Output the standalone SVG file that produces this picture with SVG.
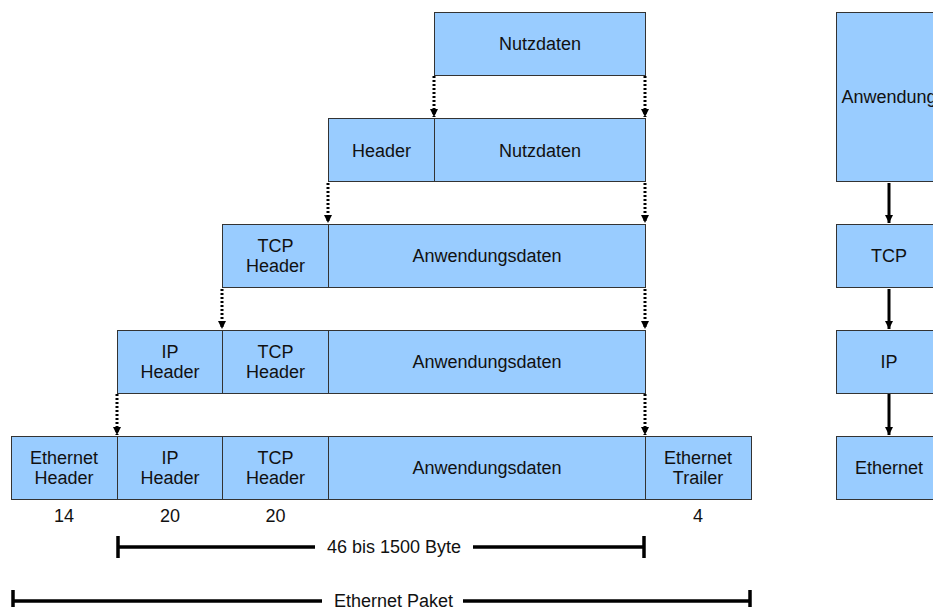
<svg xmlns="http://www.w3.org/2000/svg" width="933" height="607" viewBox="0 0 933 607">
<defs>
<style>
.box{fill:#99CCFF;stroke:#333;stroke-width:1}
.t{font-family:"Liberation Sans",Arial,sans-serif;font-size:18px;fill:#111;text-anchor:middle}
.dot{fill:none;stroke:#000;stroke-width:3;stroke-dasharray:2 2}
.sol{fill:none;stroke:#000;stroke-width:3}
.br{fill:none;stroke:#000;stroke-width:3.5}
</style>
<marker id="ah" viewBox="0 0 8 10" refX="8" refY="5" markerWidth="8" markerHeight="10" markerUnits="userSpaceOnUse" orient="auto">
<path d="M0,1 L8,5 L0,9 Z" fill="#000"/>
</marker>
</defs>
<rect width="933" height="607" fill="#fff"/>

<g id="connectors">
<line class="dot" x1="434" y1="76" x2="434" y2="117" marker-end="url(#ah)"/>
<line class="dot" x1="645" y1="76" x2="645" y2="117" marker-end="url(#ah)"/>
<line class="dot" x1="328" y1="183" x2="328" y2="223" marker-end="url(#ah)"/>
<line class="dot" x1="645" y1="183" x2="645" y2="223" marker-end="url(#ah)"/>
<line class="dot" x1="222" y1="289" x2="222" y2="329" marker-end="url(#ah)"/>
<line class="dot" x1="645" y1="289" x2="645" y2="329" marker-end="url(#ah)"/>
<line class="dot" x1="117" y1="394" x2="117" y2="435" marker-end="url(#ah)"/>
<line class="dot" x1="645" y1="394" x2="645" y2="435" marker-end="url(#ah)"/>
<line class="sol" x1="889" y1="183" x2="889" y2="223" marker-end="url(#ah)"/>
<line class="sol" x1="889" y1="289" x2="889" y2="329" marker-end="url(#ah)"/>
<line class="sol" x1="889" y1="394" x2="889" y2="435" marker-end="url(#ah)"/>
</g>

<g id="row1">
<g id="r1-nutzdaten"><rect class="box" x="434.5" y="12.5" width="211" height="63"/><text class="t" x="540" y="50">Nutzdaten</text></g>
</g>

<g id="row2">
<g id="r2-header"><rect class="box" x="328.5" y="118.5" width="106" height="63"/><text class="t" x="381.5" y="156.5">Header</text></g>
<g id="r2-nutzdaten"><rect class="box" x="434.5" y="118.5" width="211" height="63"/><text class="t" x="540" y="156.5">Nutzdaten</text></g>
</g>

<g id="row3">
<g id="r3-tcp"><rect class="box" x="222.5" y="224.5" width="106" height="63"/><text class="t" x="275.5" y="251.5">TCP</text><text class="t" x="275.5" y="272">Header</text></g>
<g id="r3-anw"><rect class="box" x="328.5" y="224.5" width="317" height="63"/><text class="t" x="487" y="262">Anwendungsdaten</text></g>
</g>

<g id="row4">
<g id="r4-ip"><rect class="box" x="117.5" y="330.5" width="105" height="63"/><text class="t" x="170" y="357.5">IP</text><text class="t" x="170" y="378">Header</text></g>
<g id="r4-tcp"><rect class="box" x="222.5" y="330.5" width="106" height="63"/><text class="t" x="275.5" y="357.5">TCP</text><text class="t" x="275.5" y="378">Header</text></g>
<g id="r4-anw"><rect class="box" x="328.5" y="330.5" width="317" height="63"/><text class="t" x="487" y="368">Anwendungsdaten</text></g>
</g>

<g id="row5">
<g id="r5-eth"><rect class="box" x="11.5" y="436.5" width="106" height="63"/><text class="t" x="64" y="463.5">Ethernet</text><text class="t" x="64" y="484">Header</text></g>
<g id="r5-ip"><rect class="box" x="117.5" y="436.5" width="105" height="63"/><text class="t" x="170" y="463.5">IP</text><text class="t" x="170" y="484">Header</text></g>
<g id="r5-tcp"><rect class="box" x="222.5" y="436.5" width="106" height="63"/><text class="t" x="275.5" y="463.5">TCP</text><text class="t" x="275.5" y="484">Header</text></g>
<g id="r5-anw"><rect class="box" x="328.5" y="436.5" width="317" height="63"/><text class="t" x="487" y="474">Anwendungsdaten</text></g>
<g id="r5-trailer"><rect class="box" x="645.5" y="436.5" width="106" height="63"/><text class="t" x="698" y="463.5">Ethernet</text><text class="t" x="698" y="484">Trailer</text></g>
</g>

<g id="sizes">
<text class="t" x="64" y="522">14</text>
<text class="t" x="170" y="522">20</text>
<text class="t" x="275.5" y="522">20</text>
<text class="t" x="698" y="522">4</text>
</g>

<g id="bracket-payload">
<line class="br" x1="118" y1="547" x2="315" y2="547"/>
<line class="br" x1="473" y1="547" x2="644" y2="547"/>
<line class="br" x1="118" y1="536" x2="118" y2="558"/>
<line class="br" x1="644" y1="536" x2="644" y2="558"/>
<text class="t" x="394" y="553">46 bis 1500 Byte</text>
</g>

<g id="bracket-frame">
<line class="br" x1="13" y1="601" x2="322" y2="601"/>
<line class="br" x1="463" y1="601" x2="750" y2="601"/>
<line class="br" x1="13" y1="590" x2="13" y2="612"/>
<line class="br" x1="750" y1="590" x2="750" y2="612"/>
<text class="t" x="393.5" y="607">Ethernet Paket</text>
</g>

<g id="stack">
<g id="s-anw"><rect class="box" x="836.5" y="12.5" width="106" height="169"/><text class="t" x="889" y="103">Anwendung</text></g>
<g id="s-tcp"><rect class="box" x="836.5" y="224.5" width="106" height="63"/><text class="t" x="889" y="262">TCP</text></g>
<g id="s-ip"><rect class="box" x="836.5" y="330.5" width="106" height="63"/><text class="t" x="889" y="368">IP</text></g>
<g id="s-eth"><rect class="box" x="836.5" y="436.5" width="106" height="63"/><text class="t" x="889" y="474">Ethernet</text></g>
</g>
</svg>
